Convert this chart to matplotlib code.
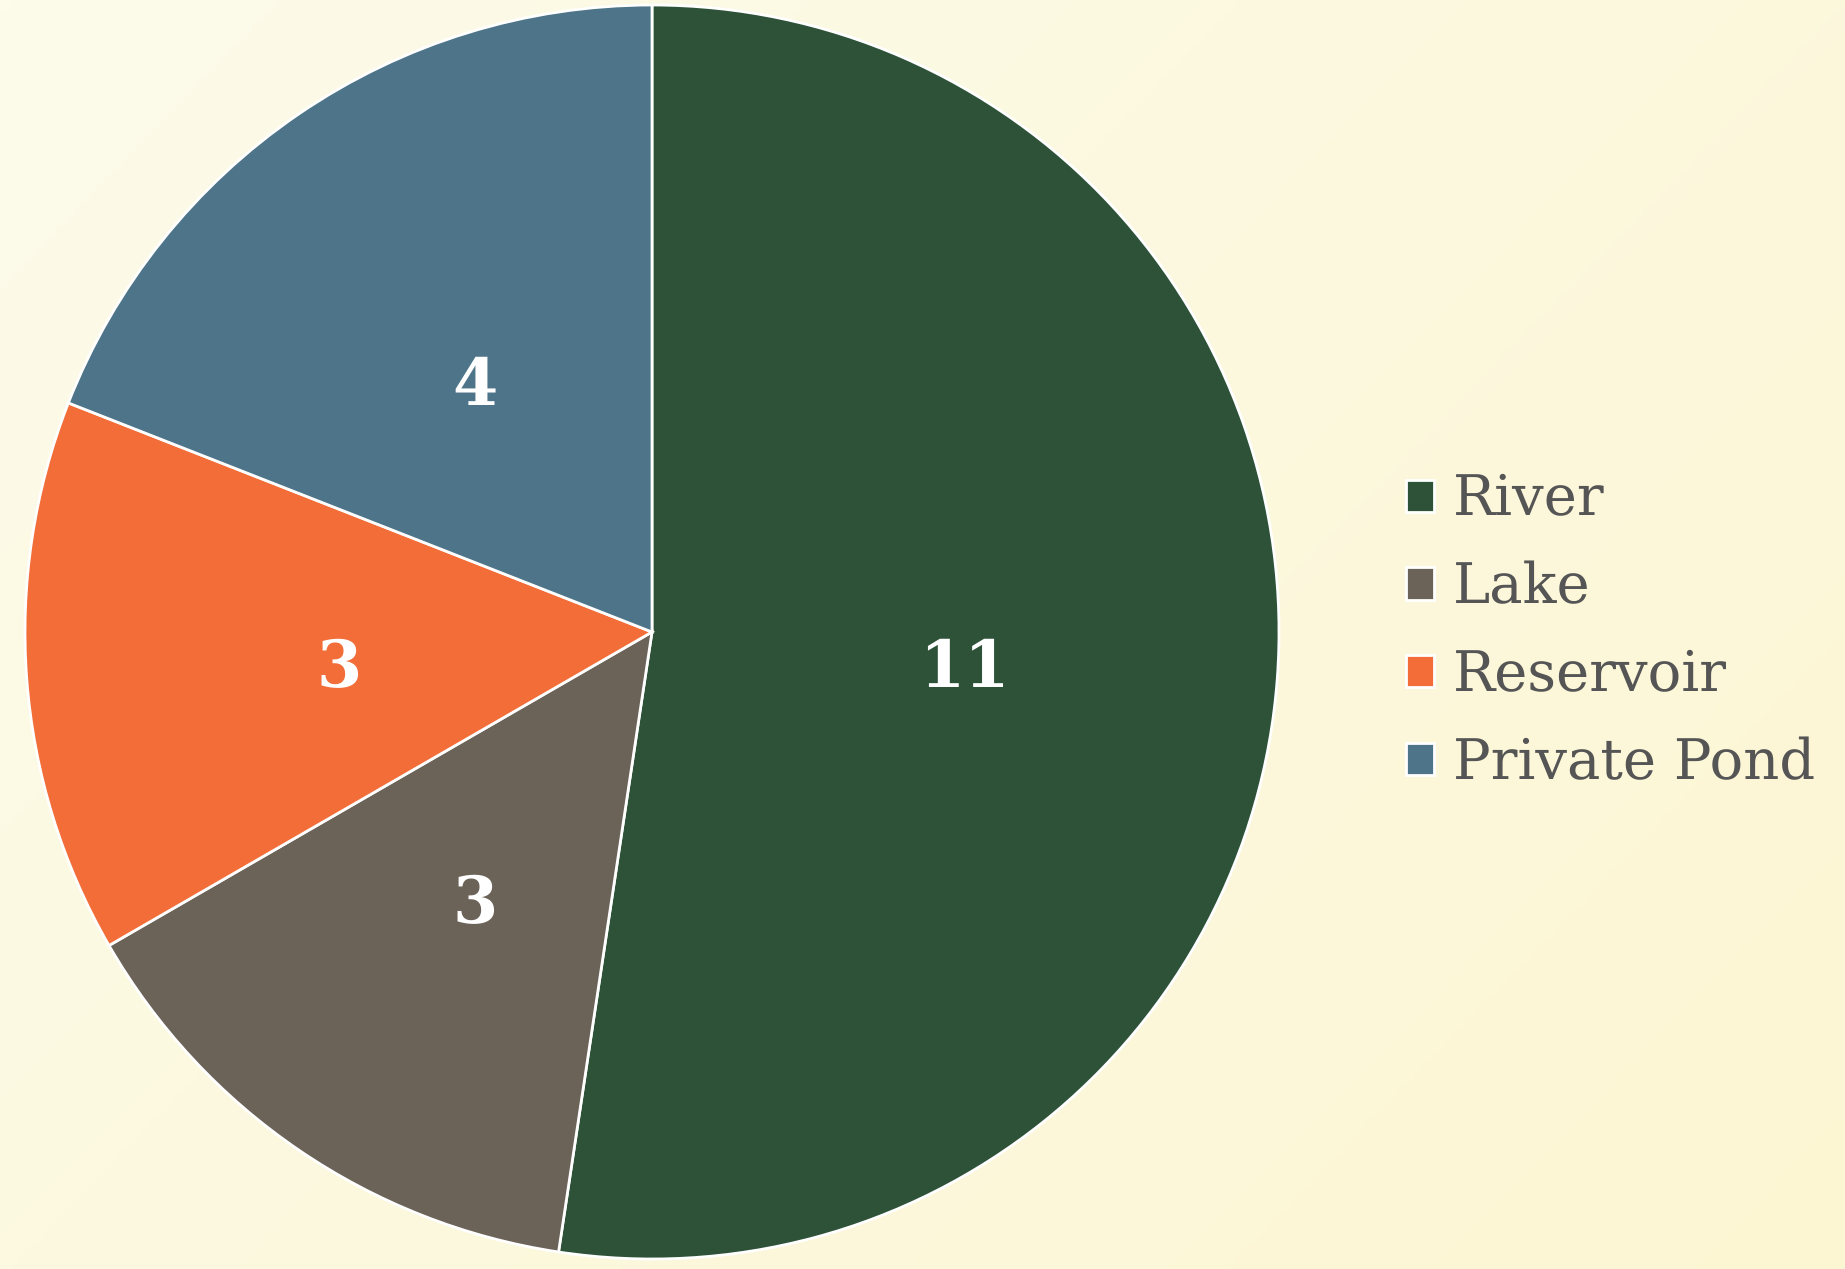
import numpy as np
import matplotlib
matplotlib.use("Agg")
import matplotlib.pyplot as plt
from matplotlib.patches import Patch
from matplotlib.colors import LinearSegmentedColormap

plt.rcParams["text.hinting"] = "no_hinting"
plt.rcParams["text.hinting_factor"] = 1

categories = ["River", "Lake", "Reservoir", "Private Pond"]
values = [11, 3, 3, 4]
colors = ["#2d5238", "#6b6258", "#f26d38", "#4d7488"]

W, H = 1845, 1269
fig = plt.figure(figsize=(W / 100, H / 100), dpi=100)

# background gradient
bg = fig.add_axes([0, 0, 1, 1])
yy, xx = np.mgrid[0:1:200j, 0:1:300j]
t = (xx * 0.6 + yy * 0.4)
cmap = LinearSegmentedColormap.from_list("bg", ["#fdfbea", "#fcf6d3"])
bg.imshow(t, cmap=cmap, aspect="auto", extent=[0, 1, 0, 1], origin="upper")
bg.set_axis_off()

cx, cy, r = 652, 632, 627
ax = fig.add_axes([(cx - r) / W, (H - cy - r) / H, 2 * r / W, 2 * r / H])
wedges, _ = ax.pie(values, colors=colors, startangle=90, counterclock=False,
                   radius=1, wedgeprops=dict(edgecolor="white", linewidth=2))
ang = 90.0
total = sum(values)
for v in values:
    span = 360.0 * v / total
    mid = np.deg2rad(ang - span / 2)
    ang -= span
    ax.text(0.5 * np.cos(mid), 0.5 * np.sin(mid) - 0.022, str(v), ha="center", va="center",
            color="white", fontsize=47, fontweight="bold", family="DejaVu Serif")
ax.set_xlim(-1, 1)
ax.set_ylim(-1, 1)
ax.set_aspect("auto")
ax.set_axis_off()

handles = [Patch(facecolor=c, edgecolor="white", linewidth=2) for c in colors]
leg = fig.legend(handles, categories, loc="center left",
                 bbox_to_anchor=(1378 / W, 1 - 632 / H), frameon=False,
                 prop=dict(family="DejaVu Serif", size=40.5),
                 handlelength=0.5, handleheight=0.5, handletextpad=0.33,
                 labelspacing=0.6, borderpad=0)
for txt in leg.get_texts():
    txt.set_color("#555555")

fig.savefig("out.png", dpi=100)
